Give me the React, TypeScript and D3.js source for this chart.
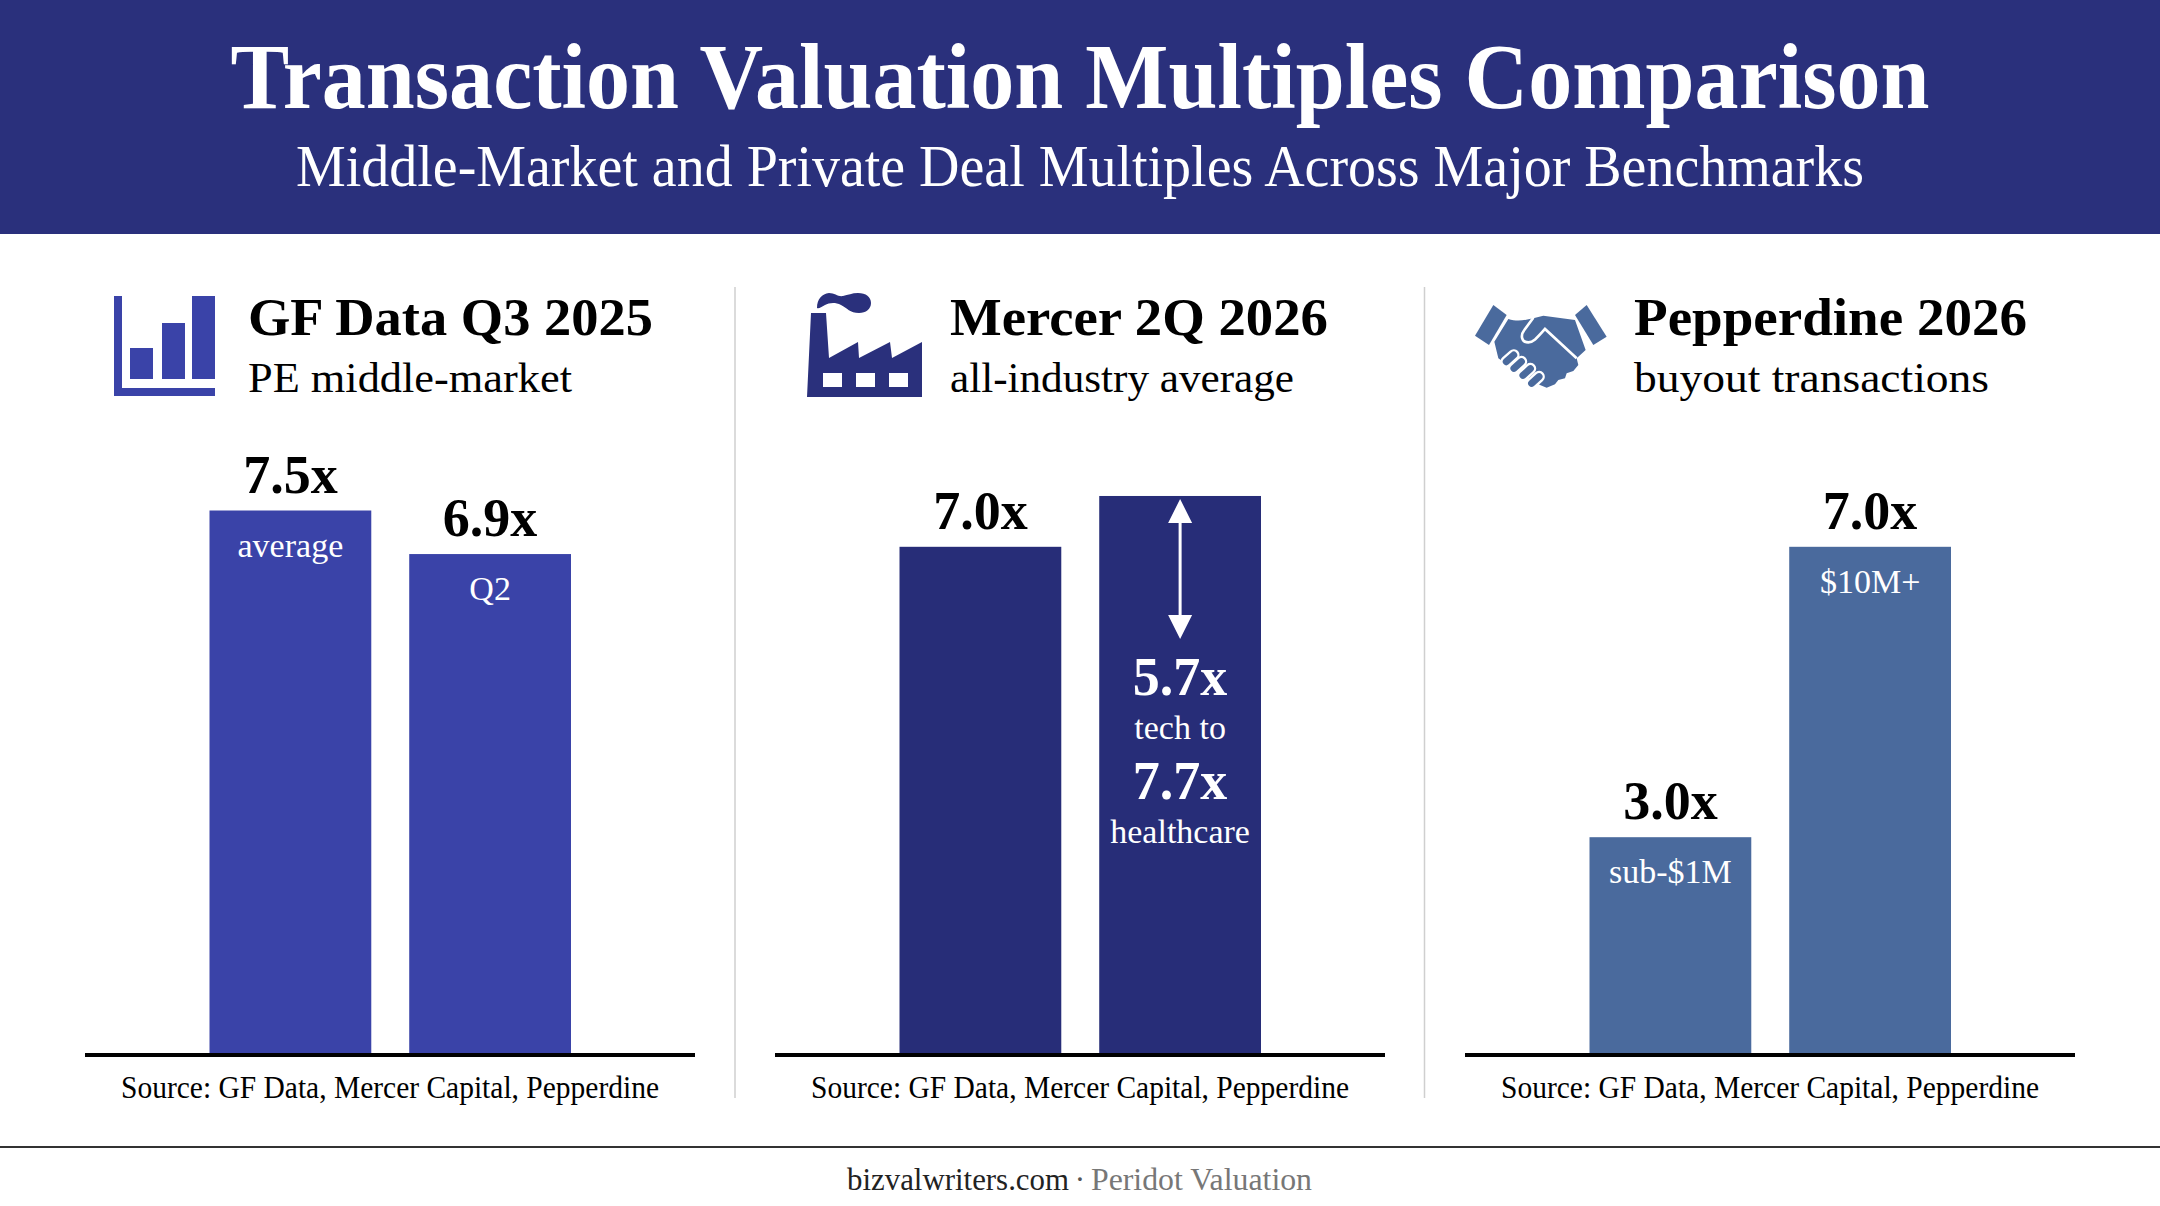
import React, { useEffect, useRef } from "react";
import * as d3 from "d3";

const chartTitle = "Transaction Valuation Multiples Comparison";
const chartSubtitle = "Middle-Market and Private Deal Multiples Across Major Benchmarks";

const panelTitles = ["GF Data Q3 2025", "Mercer 2Q 2026", "Pepperdine 2026"];
const panelSubtitles = ["PE middle-market", "all-industry average", "buyout transactions"];
const sourceLine = "Source: GF Data, Mercer Capital, Pepperdine";

const gfValues = [7.5, 6.9];
const gfNotes = ["average", "Q2"];
const mercerValues = [7.0, 7.7];
const mercerNotes = ["", ""];
const pepperdineValues = [3.0, 7.0];
const pepperdineNotes = ["sub-$1M", "$10M+"];

// low and high end of the range printed inside the second Mercer bar
const mercerRange = [5.7, 7.7];
const mercerRangeNotes = ["tech to", "healthcare"];

const footerSite = "bizvalwriters.com";
const footerName = "Peridot Valuation";

const WIDTH = 2160;
const HEIGHT = 1206;
const SERIF = "'Liberation Serif', serif";
const NAVY = "#2a307c";

const multiple = (v: number) => d3.format(".1f")(v) + "x";

const App: React.FC = () => {
  const svgRef = useRef<SVGSVGElement>(null);

  useEffect(() => {
    const svg = d3.select(svgRef.current);
    svg.selectAll("*").remove();

    const label = (
      parent: any,
      text: string,
      x: number,
      y: number,
      size: number,
      opts: { weight?: string; fill?: string; anchor?: string; fit?: number } = {}
    ) => {
      const t = parent
        .append("text")
        .attr("x", x)
        .attr("y", y)
        .attr("font-family", SERIF)
        .attr("font-size", size)
        .attr("font-weight", opts.weight ?? "normal")
        .attr("fill", opts.fill ?? "#000")
        .attr("text-anchor", opts.anchor ?? "start")
        .text(text);
      if (opts.fit) t.attr("textLength", opts.fit).attr("lengthAdjust", "spacingAndGlyphs");
      return t;
    };

    svg.append("rect").attr("width", WIDTH).attr("height", HEIGHT).attr("fill", "#fff");

    // header band
    svg.append("rect").attr("width", WIDTH).attr("height", 234).attr("fill", NAVY);
    label(svg, chartTitle, 1080, 108, 94, { weight: "bold", fill: "#fff", anchor: "middle", fit: 1699 });
    label(svg, chartSubtitle, 1080, 186, 60, { fill: "#fff", anchor: "middle", fit: 1568 });

    const y = d3.scaleLinear().domain([0, 7.5]).range([1055, 510.5]);

    const panels = [
      { values: gfValues, notes: gfNotes, top: [true, true], color: "#3a43a8", axis: 85, textX: 248, titleW: 405, subW: 324 },
      { values: mercerValues, notes: mercerNotes, top: [true, false], color: "#272d78", axis: 775, textX: 950, titleW: 378, subW: 344 },
      { values: pepperdineValues, notes: pepperdineNotes, top: [true, true], color: "#4a6a9d", axis: 1465, textX: 1634, titleW: 393, subW: 355 },
    ];

    panels.forEach((p, i) => {
      const g = svg.append("g");
      const x = d3
        .scaleBand<number>()
        .domain(d3.range(p.values.length))
        .range([p.axis + 124.5, p.axis + 486])
        .paddingInner(0.19);

      label(g, panelTitles[i], p.textX, 335, 53, { weight: "bold", fit: p.titleW });
      label(g, panelSubtitles[i], p.textX, 392, 43, { fit: p.subW });

      p.values.forEach((v, j) => {
        const cx = x(j)! + x.bandwidth() / 2;
        g.append("rect")
          .attr("x", x(j)!)
          .attr("y", y(v))
          .attr("width", x.bandwidth())
          .attr("height", y(0) - y(v))
          .attr("fill", p.color);
        if (p.top[j]) {
          label(g, multiple(v), cx, y(v) - 18, 54, { weight: "bold", anchor: "middle" });
        }
        if (p.notes[j]) {
          label(g, p.notes[j], cx, y(v) + 46, 34, { fill: "#fff", anchor: "middle" });
        }
      });

      // baseline
      g.append("rect").attr("x", p.axis).attr("y", 1053).attr("width", 610).attr("height", 4).attr("fill", "#000");
      label(g, sourceLine, p.axis + 305, 1098, 31, { anchor: "middle", fit: 538 });

      // range text and arrow inside the tall Mercer bar
      if (i === 1) {
        const cx = x(1)! + x.bandwidth() / 2;
        const tip = y(mercerValues[1]) + 3;
        g.append("line")
          .attr("x1", cx).attr("x2", cx)
          .attr("y1", tip + 10).attr("y2", tip + 130)
          .attr("stroke", "#fff").attr("stroke-width", 3);
        g.append("path")
          .attr("d", `M${cx},${tip}l12,24h-24z M${cx},${tip + 140}l12,-24h-24z`)
          .attr("fill", "#fff");
        label(g, multiple(mercerRange[0]), cx, 695, 54, { weight: "bold", fill: "#fff", anchor: "middle" });
        label(g, mercerRangeNotes[0], cx, 739, 34, { fill: "#fff", anchor: "middle" });
        label(g, multiple(mercerRange[1]), cx, 799, 54, { weight: "bold", fill: "#fff", anchor: "middle" });
        label(g, mercerRangeNotes[1], cx, 843, 34, { fill: "#fff", anchor: "middle" });
      }
    });

    // panel dividers
    [735, 1424.5].forEach((dx) => {
      svg.append("line")
        .attr("x1", dx).attr("x2", dx)
        .attr("y1", 287).attr("y2", 1098)
        .attr("stroke", "#cfcfcf").attr("stroke-width", 1.5);
    });

    // bar chart icon
    const barIcon = svg.append("g").attr("fill", "#3a43a8");
    barIcon.append("path").attr("d", "M114,296h8v92h93v8h-101z");
    barIcon.append("rect").attr("x", 130).attr("y", 348).attr("width", 23).attr("height", 31);
    barIcon.append("rect").attr("x", 162).attr("y", 323).attr("width", 23).attr("height", 56);
    barIcon.append("rect").attr("x", 192).attr("y", 296).attr("width", 23).attr("height", 83);

    // factory icon
    const factory = svg.append("g").attr("fill", NAVY);
    factory.append("path").attr("d", "M807,397L811,313H826L829,358L858,342L859,358L890,342L892,358L922,342V397Z");
    factory.append("path").attr(
      "d",
      "M817,308C817,299 822,294 829,293C835,293 838,297 843,296C848,295 852,293 858,293C866,293 871,297 871,303C871,309 866,313 859,313C850,313 847,308 841,305C835,302 829,303 825,305C821,307 819,309 817,308Z"
    );
    [823, 856, 889].forEach((wx) => {
      factory.append("rect").attr("x", wx).attr("y", 373).attr("width", 19).attr("height", 14).attr("fill", "#fff");
    });

    // handshake icon, drawn in the 150x100 box at (1465,295)
    const hands = svg.append("g").attr("fill", "#4a6a9d").attr("transform", "translate(1465,295) scale(0.3333)");
    hands.append("path").attr("d", "M85,30L125,60L72,150L30,122Z");
    hands.append("path").attr("d", "M365,30L425,125L385,150L330,60Z");
    hands.append("path").attr(
      "d",
      "M130,72C155,80 175,77 205,70L235,62L330,75L362,165L335,190L340,210L325,228L305,235L300,250L280,255L270,268L245,278L225,270L150,225L100,190L88,140Z"
    );
    hands.append("path")
      .attr("d", "M205,68L178,105C165,122 170,142 190,142C205,142 215,130 240,102L335,190")
      .attr("fill", "none").attr("stroke", "#fff").attr("stroke-width", 8);
    [[135, 190], [158, 210], [185, 231], [211, 255]].forEach(([fx, fy]) => {
      hands.append("rect")
        .attr("x", -29).attr("y", -14).attr("width", 58).attr("height", 28).attr("rx", 14)
        .attr("transform", `translate(${fx},${fy}) rotate(-42)`)
        .attr("stroke", "#fff").attr("stroke-width", 7);
    });

    // footer
    svg.append("rect").attr("x", 0).attr("y", 1146).attr("width", WIDTH).attr("height", 2).attr("fill", "#333");
    label(svg, footerSite, 847, 1190, 31, { fill: "#222", fit: 222 });
    label(svg, "·", 1080, 1190, 31, { fill: "#555", anchor: "middle" });
    label(svg, footerName, 1091, 1190, 31, { fill: "#777", fit: 221 });
  }, []);

  return (
    <svg
      ref={svgRef}
      width={WIDTH}
      height={HEIGHT}
      style={{ position: "absolute", left: 0, top: 0, display: "block" }}
    ></svg>
  );
};

export default App;
